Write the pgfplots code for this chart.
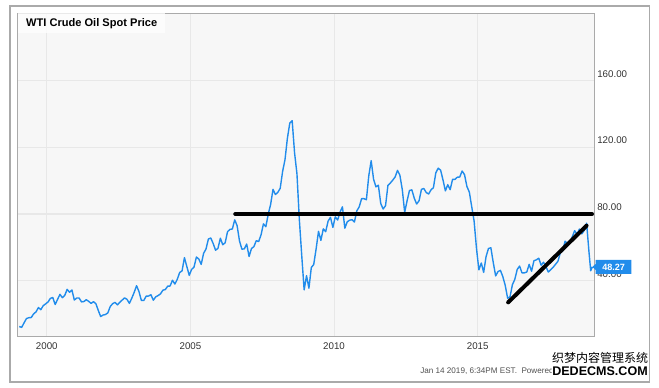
\documentclass[border=0pt]{standalone}
\usepackage{fontspec}
\setmainfont{Liberation Sans}
\newfontfamily\cjk{Noto Sans CJK SC}
\usepackage{pgfplots}
\usepackage{pgfplotstable}
\pgfplotsset{compat=1.18}
\definecolor{oil}{RGB}{33,140,235}
\definecolor{gridc}{RGB}{232,232,232}
\definecolor{bgc}{RGB}{247,247,247}
\definecolor{framec}{RGB}{170,170,170}
\definecolor{tickc}{RGB}{51,51,51}
\definecolor{footc}{RGB}{80,80,80}

\pgfplotstableread[row sep=\\]{
yr m v\\
1999 1 12.5\\ 1999 2 12.0\\ 1999 3 14.7\\ 1999 4 17.3\\ 1999 5 17.8\\ 1999 6 17.9\\ 1999 7 20.1\\ 1999 8 21.3\\ 1999 9 23.9\\ 1999 10 22.6\\ 1999 11 25.0\\ 1999 12 26.1\\
2000 1 27.2\\ 2000 2 29.4\\ 2000 3 29.9\\ 2000 4 25.7\\ 2000 5 28.8\\ 2000 6 31.8\\ 2000 7 29.8\\ 2000 8 31.2\\ 2000 9 34.8\\ 2000 10 33.1\\ 2000 11 34.4\\ 2000 12 28.4\\
2001 1 29.6\\ 2001 2 29.6\\ 2001 3 27.3\\ 2001 4 27.5\\ 2001 5 28.6\\ 2001 6 27.6\\ 2001 7 26.4\\ 2001 8 27.4\\ 2001 9 26.2\\ 2001 10 22.2\\ 2001 11 18.5\\ 2001 12 19.4\\
2002 1 19.7\\ 2002 2 20.7\\ 2002 3 24.5\\ 2002 4 26.2\\ 2002 5 27.0\\ 2002 6 25.5\\ 2002 7 27.0\\ 2002 8 28.4\\ 2002 9 29.7\\ 2002 10 28.8\\ 2002 11 26.4\\ 2002 12 29.5\\
2003 1 33.0\\ 2003 2 37.0\\ 2003 3 33.5\\ 2003 4 28.2\\ 2003 5 28.1\\ 2003 6 30.7\\ 2003 7 30.8\\ 2003 8 31.6\\ 2003 9 28.3\\ 2003 10 30.3\\ 2003 11 31.1\\ 2003 12 32.1\\
2004 1 34.3\\ 2004 2 34.7\\ 2004 3 36.7\\ 2004 4 36.8\\ 2004 5 40.3\\ 2004 6 38.0\\ 2004 7 40.8\\ 2004 8 44.9\\ 2004 9 45.9\\ 2004 10 53.8\\ 2004 11 48.5\\ 2004 12 43.2\\
2005 1 46.8\\ 2005 2 48.2\\ 2005 3 54.2\\ 2005 4 53.0\\ 2005 5 49.8\\ 2005 6 56.4\\ 2005 7 59.0\\ 2005 8 65.0\\ 2005 9 65.6\\ 2005 10 62.3\\ 2005 11 58.3\\ 2005 12 59.4\\
2006 1 65.5\\ 2006 2 61.6\\ 2006 3 62.7\\ 2006 4 69.4\\ 2006 5 70.8\\ 2006 6 71.0\\ 2006 7 76.5\\ 2006 8 73.0\\ 2006 9 63.8\\ 2006 10 58.9\\ 2006 11 59.1\\ 2006 12 62.0\\
2007 1 54.5\\ 2007 2 59.3\\ 2007 3 60.4\\ 2007 4 64.0\\ 2007 5 63.5\\ 2007 6 67.5\\ 2007 7 74.1\\ 2007 8 72.4\\ 2007 9 79.9\\ 2007 10 85.8\\ 2007 11 94.8\\ 2007 12 91.7\\
2008 1 93.0\\ 2008 2 95.4\\ 2008 3 105.5\\ 2008 4 112.6\\ 2008 5 125.4\\ 2008 6 134.5\\ 2008 7 136.0\\ 2008 8 116.7\\ 2008 9 104.1\\ 2008 10 76.6\\ 2008 11 55.0\\ 2008 12 34.5\\
2009 1 43.0\\ 2009 2 35.5\\ 2009 3 47.9\\ 2009 4 49.7\\ 2009 5 59.0\\ 2009 6 69.6\\ 2009 7 64.2\\ 2009 8 71.1\\ 2009 9 69.4\\ 2009 10 75.7\\ 2009 11 78.0\\ 2009 12 72.0\\
2010 1 78.3\\ 2010 2 76.4\\ 2010 3 81.2\\ 2010 4 84.3\\ 2010 5 71.5\\ 2010 6 75.3\\ 2010 7 76.3\\ 2010 8 76.6\\ 2010 9 75.2\\ 2010 10 81.9\\ 2010 11 84.3\\ 2010 12 89.2\\
2011 1 89.2\\ 2011 2 88.6\\ 2011 3 102.9\\ 2011 4 112.0\\ 2011 5 100.9\\ 2011 6 96.3\\ 2011 7 97.3\\ 2011 8 86.3\\ 2011 9 83.0\\ 2011 10 85.0\\ 2011 11 97.2\\ 2011 12 98.6\\
2012 1 100.3\\ 2012 2 102.2\\ 2012 3 106.2\\ 2012 4 103.3\\ 2012 5 94.7\\ 2012 6 81.0\\ 2012 7 87.9\\ 2012 8 94.1\\ 2012 9 94.5\\ 2012 10 89.5\\ 2012 11 86.0\\ 2012 12 87.9\\
2013 1 94.8\\ 2013 2 95.3\\ 2013 3 92.9\\ 2013 4 92.0\\ 2013 5 94.5\\ 2013 6 95.8\\ 2013 7 104.7\\ 2013 8 107.5\\ 2013 9 106.3\\ 2013 10 100.5\\ 2013 11 93.9\\ 2013 12 97.6\\
2014 1 94.6\\ 2014 2 100.8\\ 2014 3 100.8\\ 2014 4 102.1\\ 2014 5 102.2\\ 2014 6 105.8\\ 2014 7 103.6\\ 2014 8 96.5\\ 2014 9 93.2\\ 2014 10 84.4\\ 2014 11 75.8\\ 2014 12 59.3\\
2015 1 46.5\\ 2015 2 50.6\\ 2015 3 45.0\\ 2015 4 54.5\\ 2015 5 59.3\\ 2015 6 59.8\\ 2015 7 50.9\\ 2015 8 42.9\\ 2015 9 45.5\\ 2015 10 46.2\\ 2015 11 42.4\\ 2015 12 37.2\\
2016 1 29.5\\ 2016 2 30.3\\ 2016 3 37.6\\ 2016 4 40.8\\ 2016 5 46.7\\ 2016 6 48.8\\ 2016 7 44.7\\ 2016 8 44.7\\ 2016 9 45.2\\ 2016 10 49.8\\ 2016 11 45.7\\ 2016 12 52.0\\
2017 1 52.5\\ 2017 2 53.5\\ 2017 3 49.3\\ 2017 4 51.1\\ 2017 5 48.5\\ 2017 6 45.2\\ 2017 7 46.6\\ 2017 8 48.0\\ 2017 9 49.8\\ 2017 10 51.6\\ 2017 11 56.6\\ 2017 12 57.9\\
2018 1 63.7\\ 2018 2 62.2\\ 2018 3 62.7\\ 2018 4 66.3\\ 2018 5 70.0\\ 2018 6 67.9\\ 2018 7 71.0\\ 2018 8 68.1\\ 2018 9 70.2\\ 2018 10 74.5\\ 2018 11 57.0\\ 2018 11.7 46.0\\ 2018 12.4 48.27\\
}\oiltable

\begin{document}
\begin{tikzpicture}
\path[use as bounding box] (0,0) rectangle (494.25pt,290.25pt);
\draw[framec, line width=0.9pt] (7.5pt,3.75pt) rectangle (487pt,285.75pt);
\begin{axis}[
  at={(13.125pt,37.725pt)}, anchor=south west,
  scale only axis, width=432.4pt, height=242.4pt,
  xmin=1998.98, xmax=2019.05, ymin=6.4, ymax=200.3,
  axis background/.style={fill=bgc},
  axis line style={framec, line width=0.8pt},
  xtick={2000,2005,2010,2015}, xticklabels={2000,2005,2010,2015},
  ytick={40,80,120,160}, yticklabels={40.00,80.00,120.00,160.00},
  major tick length=0pt,
  grid=major, major grid style={gridc, line width=0.8pt},
  yticklabel pos=right,
  xticklabel style={font=\fontsize{7.3}{9}\selectfont, text=tickc, anchor=north, inner sep=0pt, yshift=-4pt},
  yticklabel style={font=\fontsize{7.3}{9}\selectfont, text=tickc, anchor=west, inner sep=0pt, xshift=2.25pt, yshift=5.25pt},
  clip=false,
]
\addplot[oil, line width=1.05pt, line join=round] table[x expr=\thisrow{yr}+(\thisrow{m}-0.5)/12, y=v] {\oiltable};
\addplot[black, line width=3pt, line cap=round] coordinates {(2006.56,80) (2018.98,80)};
\addplot[black, line width=3pt, line cap=round] coordinates {(2016.06,27.0) (2018.79,73.0)};
\fill[white, opacity=0.75] (rel axis cs:0,1) rectangle (rel axis cs:0.256,0.939);
\node[anchor=west, font=\bfseries\fontsize{8.3}{10}\selectfont, inner sep=0pt] at (rel axis cs:0.0147,0.968) {WTI Crude Oil Spot Price};
\coordinate (tip) at (axis cs:2018.99,48.27);
\end{axis}
\fill[oil] (tip) -- ++(2.5pt,2.25pt) -- ++(0,3pt) -- ++(26.75pt,0) -- ++(0,-10.5pt) -- ++(-26.75pt,0) -- ++(0,3pt) -- cycle;
\node[text=white, font=\bfseries\fontsize{6.8}{8}\selectfont, inner sep=0pt] at ([xshift=16pt]tip) {48.27};
\node[anchor=west, text=footc, font=\fontsize{6.1}{7}\selectfont, inner sep=0pt] at (315pt,12pt) {Jan 14 2019, 6:34PM EST.\ \ Powered by YCHARTS};
\node[fill=white, inner sep=0.6pt, font=\cjk\fontsize{9}{10}\selectfont] at (450pt,21.75pt) {织梦内容管理系统};
\node[fill=white, inner sep=0.6pt, font=\bfseries\fontsize{9.4}{10}\selectfont] at (450pt,11.6pt) {DEDECMS.COM};
\end{tikzpicture}
\end{document}
